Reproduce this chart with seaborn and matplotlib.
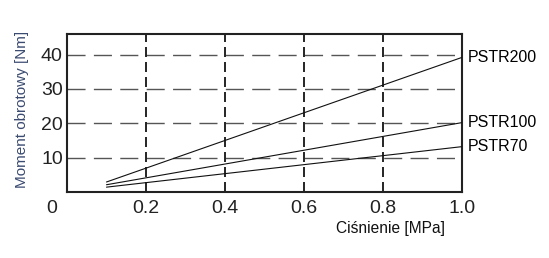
import matplotlib
matplotlib.use("Agg")
import matplotlib.pyplot as plt
import seaborn as sns
import pandas as pd

pressure = [0.1, 1.0]
pstr200 = [2.9, 39.2]
pstr100 = [2.1, 20.2]
pstr70 = [1.4, 13.2]
series_names = ["PSTR200", "PSTR100", "PSTR70"]
x_ticks = [0.2, 0.4, 0.6, 0.8, 1.0]
x_tick_labels = ["0.2", "0.4", "0.6", "0.8", "1.0"]
y_ticks = [10, 20, 30, 40]
y_tick_labels = ["10", "20", "30", "40"]

sns.set_theme(style="white")
plt.rcParams['font.family'] = ['Liberation Sans', 'DejaVu Sans']

rows = []
for name, vals in zip(series_names, [pstr200, pstr100, pstr70]):
    for x, y in zip(pressure, vals):
        rows.append({"p": x, "m": y, "series": name})
df = pd.DataFrame(rows)

fig = plt.figure(figsize=(5.49, 2.58), dpi=100)
ax = fig.add_axes([0.122, 0.256, 0.7195, 0.612])

# grid
for yv in y_ticks:
    ax.axhline(yv, color="#555555", lw=1.0, dashes=(13, 6), zorder=1)
for xv in x_ticks[:-1]:
    ax.axvline(xv, color="black", lw=1.2, dashes=(6, 3), zorder=1)

sns.lineplot(data=df, x="p", y="m", units="series", estimator=None,
             color="#111111", lw=0.8, ax=ax, legend=False, zorder=3)

ax.set_xlim(0, 1.0)
ax.set_ylim(0, 46)
ax.set_xticks(x_ticks)
ax.set_xticklabels(x_tick_labels)
ax.set_yticks(y_ticks)
ax.set_yticklabels(y_tick_labels)
ax.tick_params(axis="both", length=0, labelsize=14, colors="#222222")
ax.tick_params(axis="x", pad=6)
ax.tick_params(axis="y", pad=3)
ax.grid(False)
for s in ax.spines.values():
    s.set_color("#222222")
    s.set_linewidth(1.5)

ax.annotate("0", xy=(0, 0), xycoords="data", xytext=(-11, -6),
            textcoords="offset points", ha="center", va="top",
            fontsize=14, color="#222222")

for name, vals in zip(series_names, [pstr200, pstr100, pstr70]):
    ax.annotate(name, xy=(1.0, vals[-1]), xycoords="data", xytext=(4, 0),
                textcoords="offset points", ha="left", va="center",
                fontsize=11.5, color="black", annotation_clip=False)

ax.set_xlabel("")
ax.set_ylabel("")
fig.text(390 / 549, 1 - 229 / 258, "Ciśnienie [MPa]", ha="center", va="center",
         fontsize=11.2, color="#111111")
fig.text(22 / 549, 1 - 109 / 258, "Moment obrotowy [Nm]", ha="center", va="center",
         rotation=90, fontsize=11, color="#3a4a70")

fig.savefig("out.png", dpi=100)
